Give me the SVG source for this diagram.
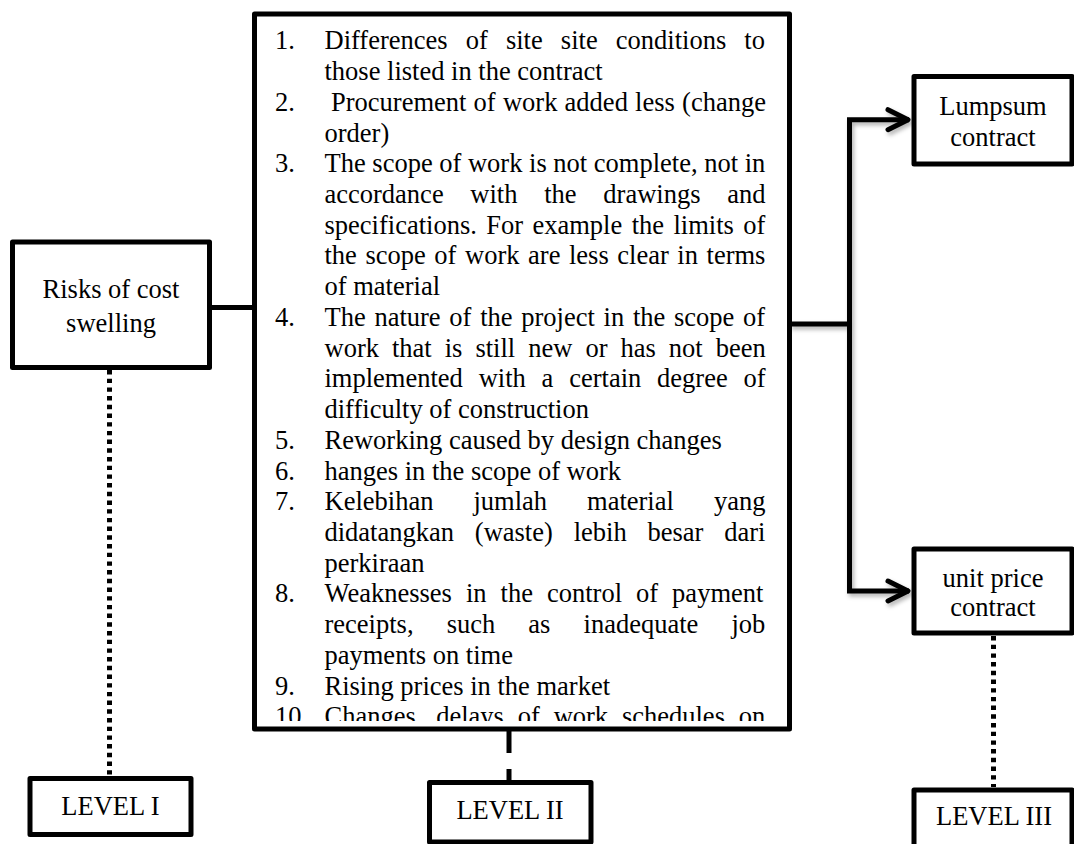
<svg xmlns="http://www.w3.org/2000/svg" width="1074" height="844" viewBox="0 0 1074 844">
<style>
.box{fill:#fff;stroke:#000;stroke-width:5;stroke-linejoin:round}
.t{font-family:"Liberation Serif","Times New Roman",serif;font-size:26.5px;fill:#000}
.c{text-anchor:middle}
.ln{fill:none;stroke:#000;stroke-width:5}
.dot{stroke-dasharray:4.4 4.3}
</style>
<defs>
<marker id="arr" viewBox="-26 -15 30 30" refX="0" refY="0" markerWidth="30" markerHeight="30" orient="auto" markerUnits="userSpaceOnUse">
<path d="M-21,-10 L-1,0 L-21,10" fill="none" stroke="#000" stroke-width="5" stroke-linecap="round" stroke-linejoin="round"/>
</marker>
<filter id="sh" x="-20%" y="-20%" width="140%" height="140%">
<feDropShadow dx="2" dy="3" stdDeviation="2" flood-color="#000" flood-opacity="0.3"/>
</filter>
<clipPath id="clipList"><rect x="254" y="14" width="535" height="707"/></clipPath>
</defs>

<g id="connectors">
<path class="ln" d="M209.5,307.5 H254"/>
<path class="ln dot" d="M109.5,370 V776"/>
<path class="ln" d="M509,731 V780" stroke-dasharray="22 16"/>
<path class="ln dot" d="M993.5,636 V787"/>
<g filter="url(#sh)">
<path class="ln" d="M789.5,324 H849.5"/>
<path class="ln" d="M849.5,324 V119.7 H909" marker-end="url(#arr)"/>
<path class="ln" d="M849.5,324 V591 H909" marker-end="url(#arr)"/>
</g>
</g>

<g id="risks">
<rect class="box" x="12.5" y="242" width="197" height="125.5"/>
<text class="t c" x="111" y="298">Risks of cost</text>
<text class="t c" x="111" y="332">swelling</text>
</g>

<g id="list">
<rect class="box" x="254.5" y="14" width="535" height="715"/>
<g clip-path="url(#clipList)" class="t">
<text x="275" y="49.3">1.</text>
<text x="324.5" y="49.3" word-spacing="11.5">Differences of site site conditions to</text>
<text x="324.5" y="80">those listed in the contract</text>
<text x="275" y="110.8">2.</text>
<text x="331" y="110.8" word-spacing="0.6">Procurement of work added less (change</text>
<text x="324.5" y="141.5">order)</text>
<text x="275" y="172.2">3.</text>
<text x="324.5" y="172.2">The scope of work is not complete, not in</text>
<text x="324.5" y="203" word-spacing="20.1">accordance with the drawings and</text>
<text x="324.5" y="233.7" word-spacing="2.8">specifications. For example the limits of</text>
<text x="324.5" y="264.4" word-spacing="1.95">the scope of work are less clear in terms</text>
<text x="324.5" y="295.1">of material</text>
<text x="275" y="325.9">4.</text>
<text x="324.5" y="325.9" word-spacing="2.1">The nature of the project in the scope of</text>
<text x="324.5" y="356.6" word-spacing="6.4">work that is still new or has not been</text>
<text x="324.5" y="387.3" word-spacing="9.2">implemented with a certain degree of</text>
<text x="324.5" y="418.1">difficulty of construction</text>
<text x="275" y="448.8">5.</text>
<text x="324.5" y="448.8">Reworking caused by design changes</text>
<text x="275" y="479.5">6.</text>
<text x="324.5" y="479.5">hanges in the scope of work</text>
<text x="275" y="510.3">7.</text>
<text x="324.5" y="510.3" word-spacing="33.4">Kelebihan jumlah material yang</text>
<text x="324.5" y="541" word-spacing="14.2">didatangkan (waste) lebih besar dari</text>
<text x="324.5" y="571.7">perkiraan</text>
<text x="275" y="602.4">8.</text>
<text x="324.5" y="602.4" word-spacing="7.4">Weaknesses in the control of payment</text>
<text x="324.5" y="633.2" word-spacing="26.5">receipts, such as inadequate job</text>
<text x="324.5" y="663.9">payments on time</text>
<text x="275" y="694.6">9.</text>
<text x="324.5" y="694.6">Rising prices in the market</text>
<text x="275" y="725.4">10.</text>
<text x="324.5" y="725.4" word-spacing="7.2">Changes, delays of work schedules on</text>
</g>
</g>

<g id="lumpsum">
<rect class="box" x="914" y="76.5" width="158" height="87.5"/>
<text class="t c" x="993" y="115">Lumpsum</text>
<text class="t c" x="993" y="145.5">contract</text>
</g>

<g id="unitprice">
<rect class="box" x="914" y="549" width="158" height="84"/>
<text class="t c" x="993" y="586.7">unit price</text>
<text class="t c" x="993" y="616">contract</text>
</g>

<g id="level1">
<rect class="box" x="30" y="778.5" width="161" height="56"/>
<text class="t c" x="110.5" y="815">LEVEL I</text>
</g>

<g id="level2">
<rect class="box" x="429.5" y="782.5" width="161.5" height="59.5"/>
<text class="t c" x="510" y="819">LEVEL II</text>
</g>

<g id="level3">
<rect class="box" x="914" y="790" width="158" height="70"/>
<text class="t c" x="994" y="825">LEVEL III</text>
</g>
</svg>
